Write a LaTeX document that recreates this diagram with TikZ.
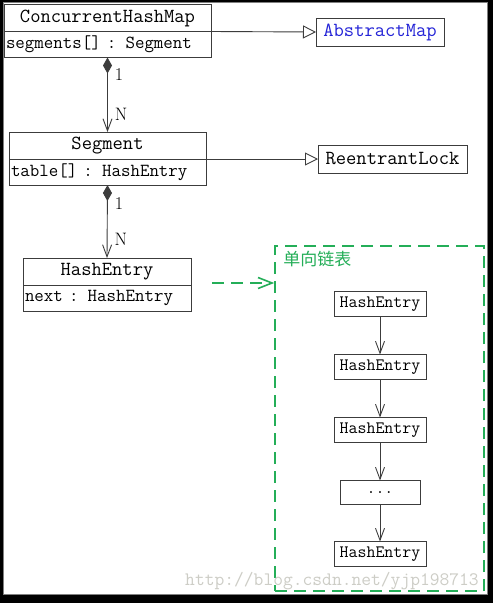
\documentclass[tikz,border=0pt]{standalone}
\usepackage{fontspec}
\newfontfamily\cjkfont{Noto Sans CJK SC}
\usepackage{tikz}
\usetikzlibrary{
  arrows.meta,
  positioning
}
\definecolor{linegray}{RGB}{60,60,60}
\definecolor{listgreen}{RGB}{36,174,88}
\definecolor{mapblue}{RGB}{35,35,215}
\definecolor{markgray}{RGB}{205,205,198}

\begin{document}
\begin{tikzpicture}[
  x=1pt, y=-1pt,
  classname/.style={draw=linegray, line width=0.9pt, outer sep=0pt, inner sep=0pt,
                    minimum height=27pt, font=\ttfamily\fontsize{20}{22}\selectfont},
  classattr/.style={draw=linegray, line width=0.9pt, outer sep=0pt, inner sep=2pt,
                    minimum height=26pt, align=left, font=\ttfamily\fontsize{18.4}{20}\selectfont},
  iface/.style={draw=linegray, line width=0.9pt, outer sep=0pt, inner sep=0pt,
                minimum height=28pt, font=\ttfamily\fontsize{20}{22}\selectfont},
  entry/.style={draw=linegray, line width=0.9pt, outer sep=0pt, inner sep=0pt,
                minimum width=92pt, minimum height=25pt, font=\ttfamily\fontsize{17.4}{19}\selectfont},
  lbl/.style={inner sep=0pt, font=\fontsize{18}{20}\selectfont},
  gen/.style={draw=linegray, line width=0.9pt, -{Triangle[open, length=13pt, width=13pt, fill=white]}},
  comp/.style={draw=linegray, line width=0.9pt,
               {Diamond[length=16pt, width=9pt]}-{Straight Barb[length=12pt, width=9pt]}},
  link/.style={draw=linegray, line width=0.9pt, -{Straight Barb[length=12pt, width=9pt]}},
  greenarr/.style={draw=listgreen, line width=1.6pt, dash pattern=on 12pt off 7pt,
                   -{Straight Barb[length=14pt, width=11pt]}},
  node distance=38pt
]
  % frame
  \fill[black] (0,0) rectangle (493,603);
  \filldraw[fill=white, draw=gray] (3,2) rectangle (487,594);
  \useasboundingbox (0,0) rectangle (493,603);

  % ConcurrentHashMap
  \node[classname, minimum width=207pt] (chm) at (107.5,18) {ConcurrentHashMap};
  \node[classattr, text width=203pt, below=0pt of chm] (chm-attr) {segments[] : Segment};
  \node[iface, text=mapblue, minimum width=128pt] (amap) at (380,32) {AbstractMap};
  \draw[gen] (chm.south east) -- (amap.west);

  % Segment
  \node[classname, minimum width=197pt] (seg) at (107.5,145.5) {Segment};
  \node[classattr, text width=193pt, below=0pt of seg] (seg-attr) {table[] : HashEntry};
  \node[iface, minimum width=149pt] (lock) at (392.5,159) {ReentrantLock};
  \draw[gen] (seg.south east) -- (lock.west);

  \draw[comp] (chm-attr.south) -- (seg.north)
    node[lbl, pos=0.23, right=7pt] {1}
    node[lbl, pos=0.76, right=7pt] {N};

  % HashEntry
  \node[classname, minimum width=168pt] (he) at (107,271.5) {HashEntry};
  \node[classattr, text width=164pt, below=0pt of he] (he-attr) {next : HashEntry};

  \draw[comp] (seg-attr.south) -- (he.north)
    node[lbl, pos=0.25, right=7pt] {1}
    node[lbl, pos=0.75, right=7pt] {N};

  % linked list
  \node[draw=listgreen, line width=1.6pt, dash pattern=on 12pt off 7pt,
        minimum width=209pt, minimum height=345pt] (list) at (379.5,418.5) {};
  \node[anchor=north west, inner sep=0pt, text=listgreen,
        font=\cjkfont\fontsize{17}{19}\selectfont] (list-lbl)
    at ([xshift=9pt, yshift=-6pt]list.north west) {单向链表};
  \coordinate (he-out) at ([xshift=21pt, yshift=2pt]he.south east);
  \draw[greenarr] (he-out) -- (he-out -| list.west);

  \node[entry] (e1) at (380,304) {HashEntry};
  \node[entry, below=of e1] (e2) {HashEntry};
  \node[entry, below=of e2] (e3) {HashEntry};
  \node[entry, minimum width=80pt, minimum height=24pt, below=of e3] (dots) {...};
  \node[entry, below=37pt of dots] (e4) {HashEntry};
  \draw[link] (e1) -- (e2);
  \draw[link] (e2) -- (e3);
  \draw[link] (e3) -- (dots);
  \draw[link] (dots) -- (e4);

  % watermark
  \node[text=markgray, inner sep=0pt, font=\ttfamily\fontsize{19}{21}\selectfont] (mark)
    at (332,581) {http://blog.csdn.net/yjp198713};

\end{tikzpicture}
\end{document}
